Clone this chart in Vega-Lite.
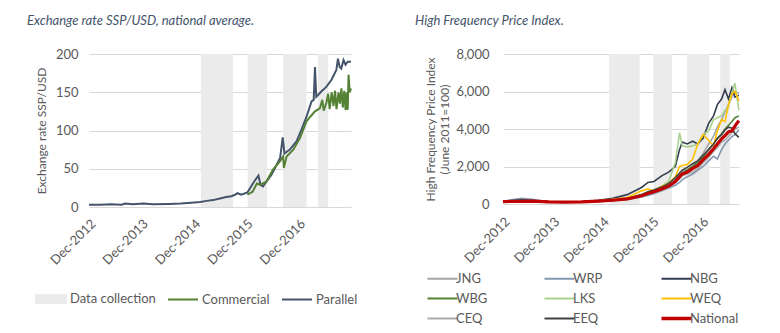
{
  "$schema": "https://vega.github.io/schema/vega-lite/v6.json",
  "padding": {"left": 27, "top": 15, "right": 5, "bottom": 5},
  "datasets": {
    "bands": [
      {"d": "2015-01-20", "e": "2015-09-01"},
      {"d": "2015-12-12", "e": "2016-04-25"},
      {"d": "2016-08-15", "e": "2017-01-25"},
      {"d": "2017-04-15", "e": "2017-06-25"}
    ],
    "fx": [
      {"d": "2012-12-01", "s": "Parallel", "v": 3},
      {"d": "2013-02-15", "s": "Parallel", "v": 3},
      {"d": "2013-05-01", "s": "Parallel", "v": 3.5},
      {"d": "2013-07-15", "s": "Parallel", "v": 3},
      {"d": "2013-08-10", "s": "Parallel", "v": 4.5},
      {"d": "2013-10-01", "s": "Parallel", "v": 3.5},
      {"d": "2013-12-15", "s": "Parallel", "v": 4.5},
      {"d": "2014-02-15", "s": "Parallel", "v": 3.5},
      {"d": "2014-06-15", "s": "Parallel", "v": 4},
      {"d": "2014-09-01", "s": "Parallel", "v": 4.5},
      {"d": "2014-11-15", "s": "Parallel", "v": 5.5},
      {"d": "2015-01-15", "s": "Parallel", "v": 6.5},
      {"d": "2015-03-01", "s": "Parallel", "v": 8},
      {"d": "2015-04-15", "s": "Parallel", "v": 9},
      {"d": "2015-06-01", "s": "Parallel", "v": 11},
      {"d": "2015-07-15", "s": "Parallel", "v": 13},
      {"d": "2015-08-20", "s": "Parallel", "v": 14},
      {"d": "2015-09-15", "s": "Parallel", "v": 16},
      {"d": "2015-10-01", "s": "Parallel", "v": 18},
      {"d": "2015-10-28", "s": "Parallel", "v": 16},
      {"d": "2015-12-10", "s": "Parallel", "v": 19},
      {"d": "2016-01-25", "s": "Parallel", "v": 33},
      {"d": "2016-02-25", "s": "Parallel", "v": 41},
      {"d": "2016-03-10", "s": "Parallel", "v": 29},
      {"d": "2016-03-28", "s": "Parallel", "v": 27},
      {"d": "2016-04-20", "s": "Parallel", "v": 33},
      {"d": "2016-05-25", "s": "Parallel", "v": 42},
      {"d": "2016-06-30", "s": "Parallel", "v": 55},
      {"d": "2016-07-25", "s": "Parallel", "v": 64},
      {"d": "2016-08-12", "s": "Parallel", "v": 91},
      {"d": "2016-08-24", "s": "Parallel", "v": 70},
      {"d": "2016-10-01", "s": "Parallel", "v": 75},
      {"d": "2016-11-17", "s": "Parallel", "v": 86},
      {"d": "2016-12-21", "s": "Parallel", "v": 101},
      {"d": "2017-01-25", "s": "Parallel", "v": 118},
      {"d": "2017-03-01", "s": "Parallel", "v": 138},
      {"d": "2017-03-16", "s": "Parallel", "v": 140},
      {"d": "2017-03-25", "s": "Parallel", "v": 183},
      {"d": "2017-04-03", "s": "Parallel", "v": 144},
      {"d": "2017-05-08", "s": "Parallel", "v": 151},
      {"d": "2017-06-12", "s": "Parallel", "v": 157},
      {"d": "2017-07-17", "s": "Parallel", "v": 166},
      {"d": "2017-08-21", "s": "Parallel", "v": 179},
      {"d": "2017-09-01", "s": "Parallel", "v": 194},
      {"d": "2017-09-13", "s": "Parallel", "v": 183},
      {"d": "2017-09-24", "s": "Parallel", "v": 181},
      {"d": "2017-10-10", "s": "Parallel", "v": 192},
      {"d": "2017-10-24", "s": "Parallel", "v": 186},
      {"d": "2017-11-08", "s": "Parallel", "v": 190},
      {"d": "2017-12-01", "s": "Parallel", "v": 190},
      {"d": "2015-12-10", "s": "Commercial", "v": 16},
      {"d": "2016-01-15", "s": "Commercial", "v": 20},
      {"d": "2016-02-15", "s": "Commercial", "v": 31},
      {"d": "2016-03-05", "s": "Commercial", "v": 29},
      {"d": "2016-04-20", "s": "Commercial", "v": 33},
      {"d": "2016-06-05", "s": "Commercial", "v": 49},
      {"d": "2016-07-25", "s": "Commercial", "v": 60},
      {"d": "2016-08-15", "s": "Commercial", "v": 66},
      {"d": "2016-08-20", "s": "Commercial", "v": 51},
      {"d": "2016-09-08", "s": "Commercial", "v": 66},
      {"d": "2016-10-25", "s": "Commercial", "v": 75},
      {"d": "2016-12-10", "s": "Commercial", "v": 90},
      {"d": "2017-01-25", "s": "Commercial", "v": 112},
      {"d": "2017-02-20", "s": "Commercial", "v": 118},
      {"d": "2017-03-25", "s": "Commercial", "v": 125},
      {"d": "2017-04-28", "s": "Commercial", "v": 129},
      {"d": "2017-05-15", "s": "Commercial", "v": 140},
      {"d": "2017-05-25", "s": "Commercial", "v": 126},
      {"d": "2017-06-12", "s": "Commercial", "v": 136},
      {"d": "2017-06-25", "s": "Commercial", "v": 148},
      {"d": "2017-07-05", "s": "Commercial", "v": 128},
      {"d": "2017-07-20", "s": "Commercial", "v": 150},
      {"d": "2017-08-01", "s": "Commercial", "v": 132},
      {"d": "2017-08-12", "s": "Commercial", "v": 152},
      {"d": "2017-08-22", "s": "Commercial", "v": 128},
      {"d": "2017-09-05", "s": "Commercial", "v": 150},
      {"d": "2017-09-15", "s": "Commercial", "v": 135},
      {"d": "2017-09-25", "s": "Commercial", "v": 155},
      {"d": "2017-10-05", "s": "Commercial", "v": 130},
      {"d": "2017-10-15", "s": "Commercial", "v": 152},
      {"d": "2017-10-24", "s": "Commercial", "v": 127},
      {"d": "2017-11-01", "s": "Commercial", "v": 150},
      {"d": "2017-11-08", "s": "Commercial", "v": 127},
      {"d": "2017-11-14", "s": "Commercial", "v": 173},
      {"d": "2017-11-22", "s": "Commercial", "v": 150},
      {"d": "2017-12-01", "s": "Commercial", "v": 155}
    ],
    "hfpi": [
      {"d": "2012-12-01", "JNG": 150, "WRP": 150, "NBG": 150, "WBG": 150, "LKS": 140, "WEQ": 140, "CEQ": 130, "EEQ": 140, "National": 130},
      {"d": "2013-04-15", "JNG": 160, "WRP": 300, "NBG": 230, "WBG": 140, "LKS": 150, "WEQ": 150, "CEQ": 130, "EEQ": 140, "National": 140},
      {"d": "2013-07-01", "JNG": 150, "WRP": 250, "NBG": 200, "WBG": 150, "LKS": 140, "WEQ": 130, "CEQ": 140, "EEQ": 150, "National": 150},
      {"d": "2013-11-01", "JNG": 120, "WRP": 120, "NBG": 130, "WBG": 110, "LKS": 110, "WEQ": 100, "CEQ": 100, "EEQ": 110, "National": 110},
      {"d": "2014-03-01", "JNG": 110, "WRP": 110, "NBG": 110, "WBG": 110, "LKS": 100, "WEQ": 100, "CEQ": 100, "EEQ": 100, "National": 100},
      {"d": "2014-07-01", "JNG": 110, "WRP": 100, "NBG": 120, "WBG": 110, "LKS": 110, "WEQ": 110, "CEQ": 100, "EEQ": 110, "National": 110},
      {"d": "2014-11-01", "JNG": 160, "WRP": 130, "NBG": 200, "WBG": 160, "LKS": 160, "WEQ": 170, "CEQ": 140, "EEQ": 150, "National": 150},
      {"d": "2015-02-15", "JNG": 220, "WRP": 170, "NBG": 300, "WBG": 210, "LKS": 220, "WEQ": 250, "CEQ": 190, "EEQ": 200, "National": 200},
      {"d": "2015-06-01", "JNG": 300, "WRP": 230, "NBG": 500, "WBG": 290, "LKS": 300, "WEQ": 350, "CEQ": 250, "EEQ": 280, "National": 270},
      {"d": "2015-09-15", "JNG": 480, "WRP": 380, "NBG": 880, "WBG": 460, "LKS": 500, "WEQ": 700, "CEQ": 420, "EEQ": 500, "National": 440},
      {"d": "2015-11-01", "JNG": 600, "WRP": 450, "NBG": 1150, "WBG": 580, "LKS": 650, "WEQ": 800, "CEQ": 520, "EEQ": 650, "National": 560},
      {"d": "2015-12-15", "JNG": 700, "WRP": 550, "NBG": 1200, "WBG": 680, "LKS": 750, "WEQ": 700, "CEQ": 600, "EEQ": 750, "National": 650},
      {"d": "2016-02-10", "JNG": 850, "WRP": 700, "NBG": 1500, "WBG": 850, "LKS": 950, "WEQ": 950, "CEQ": 750, "EEQ": 900, "National": 800},
      {"d": "2016-04-01", "JNG": 1000, "WRP": 850, "NBG": 1700, "WBG": 1000, "LKS": 1200, "WEQ": 1100, "CEQ": 900, "EEQ": 1100, "National": 950},
      {"d": "2016-05-20", "JNG": 1300, "WRP": 1000, "NBG": 2000, "WBG": 1250, "LKS": 2200, "WEQ": 1450, "CEQ": 1150, "EEQ": 1400, "National": 1200},
      {"d": "2016-06-20", "JNG": 1550, "WRP": 1150, "NBG": 2900, "WBG": 1500, "LKS": 3800, "WEQ": 2000, "CEQ": 1350, "EEQ": 1650, "National": 1450},
      {"d": "2016-07-10", "JNG": 1700, "WRP": 1300, "NBG": 3300, "WBG": 1650, "LKS": 3100, "WEQ": 2050, "CEQ": 1500, "EEQ": 1800, "National": 1600},
      {"d": "2016-08-15", "JNG": 1850, "WRP": 1450, "NBG": 3200, "WBG": 1800, "LKS": 3050, "WEQ": 2100, "CEQ": 1600, "EEQ": 1950, "National": 1700},
      {"d": "2016-09-25", "JNG": 2050, "WRP": 1600, "NBG": 3350, "WBG": 2000, "LKS": 3100, "WEQ": 2400, "CEQ": 1700, "EEQ": 2150, "National": 1900},
      {"d": "2016-11-01", "JNG": 2300, "WRP": 1800, "NBG": 3200, "WBG": 2200, "LKS": 3200, "WEQ": 3200, "CEQ": 1900, "EEQ": 2300, "National": 2050},
      {"d": "2016-12-10", "JNG": 2700, "WRP": 2000, "NBG": 3500, "WBG": 2500, "LKS": 3700, "WEQ": 3700, "CEQ": 2200, "EEQ": 2600, "National": 2350},
      {"d": "2017-01-20", "JNG": 3200, "WRP": 2300, "NBG": 4300, "WBG": 2900, "LKS": 3900, "WEQ": 3400, "CEQ": 2500, "EEQ": 2900, "National": 2650},
      {"d": "2017-02-25", "JNG": 3600, "WRP": 2550, "NBG": 4700, "WBG": 3200, "LKS": 4500, "WEQ": 3100, "CEQ": 2800, "EEQ": 3200, "National": 2950},
      {"d": "2017-03-25", "JNG": 4100, "WRP": 2400, "NBG": 5300, "WBG": 3500, "LKS": 4600, "WEQ": 3900, "CEQ": 3000, "EEQ": 3500, "National": 3200},
      {"d": "2017-04-25", "JNG": 4500, "WRP": 2900, "NBG": 5600, "WBG": 3750, "LKS": 4700, "WEQ": 4500, "CEQ": 3300, "EEQ": 3700, "National": 3480},
      {"d": "2017-05-20", "JNG": 4900, "WRP": 3200, "NBG": 6100, "WBG": 4000, "LKS": 5000, "WEQ": 4400, "CEQ": 3400, "EEQ": 3950, "National": 3650},
      {"d": "2017-06-15", "JNG": 5300, "WRP": 3400, "NBG": 5600, "WBG": 4200, "LKS": 5200, "WEQ": 5300, "CEQ": 3600, "EEQ": 4100, "National": 3850},
      {"d": "2017-07-10", "JNG": 5700, "WRP": 3600, "NBG": 6200, "WBG": 4400, "LKS": 5900, "WEQ": 5900, "CEQ": 3800, "EEQ": 4050, "National": 3900},
      {"d": "2017-08-01", "JNG": 6000, "WRP": 3700, "NBG": 5700, "WBG": 4600, "LKS": 6450, "WEQ": 6000, "CEQ": 4000, "EEQ": 3750, "National": 4150},
      {"d": "2017-08-30", "JNG": 5900, "WRP": 3950, "NBG": 5800, "WBG": 4700, "LKS": 5000, "WEQ": 5500, "CEQ": 4100, "EEQ": 3550, "National": 4450}
    ]
  },
  "config": {
    "font": "Lato",
    "view": {"stroke": null},
    "axis": {
      "labelColor": "#595959", "titleColor": "#595959", "labelFontSize": 13, "titleFontSize": 12,
      "titleFontWeight": "normal", "ticks": false, "domain": false, "gridColor": "#D9D9D9", "labelFont": "Lato", "titleFont": "Lato"
    },
    "legend": {"labelColor": "#595959", "labelFontSize": 13, "labelFont": "Lato"},
    "title": {"font": "Lato", "fontStyle": "italic", "fontWeight": "normal", "fontSize": 13, "color": "#44546A", "anchor": "start", "frame": "group"}
  },
  "resolve": {"scale": {"color": "independent"}, "legend": {"color": "independent"}},
  "spacing": 57,
  "hconcat": [
    {
      "width": 262,
      "height": 153,
      "title": {"text": "Exchange rate SSP/USD, national average.", "dx": -62, "offset": 20},
      "encoding": {
        "x": {"field": "d", "type": "temporal",
          "scale": {"domain": [{"year": 2012, "month": 12, "date": 1}, {"year": 2017, "month": 12, "date": 1}]},
          "axis": {"title": null, "format": "%b-%Y", "labelAngle": -45, "grid": false, "labelPadding": 10, "labelFlush": false, "labelOverlap": false,
            "values": [{"year": 2012, "month": 12, "date": 1}, {"year": 2013, "month": 12, "date": 1}, {"year": 2014, "month": 12, "date": 1}, {"year": 2015, "month": 12, "date": 1}, {"year": 2016, "month": 12, "date": 1}]}},
        "color": {"type": "nominal",
          "scale": {"domain": ["Data collection", "Commercial", "Parallel"], "range": ["#EBEBEB", "#548235", "#44546A"]},
          "legend": {
            "title": null, "orient": "none", "legendX": -54, "legendY": 229, "direction": "horizontal", "symbolType": "stroke", "symbolSize": 900,
            "symbolStrokeWidth": 2, "labelOffset": 3, "columnPadding": 8,
            "encode": {"symbols": {"update": {
              "shape": {"signal": "datum.value === 'Data collection' ? 'M-1,-0.26H1V0.26H-1Z' : 'stroke'"},
              "fill": {"signal": "datum.value === 'Data collection' ? '#EBEBEB' : 'transparent'"},
              "stroke": {"signal": "datum.value === 'Data collection' ? 'transparent' : (datum.value === 'Commercial' ? '#548235' : '#44546A')"},
              "opacity": {"value": 1}
            }}}
          }}
      },
      "layer": [
        {
          "data": {"name": "bands"},
          "mark": {"type": "rect"},
          "encoding": {
            "x2": {"field": "e"},
            "color": {"datum": "Data collection"}
          }
        },
        {
          "data": {"name": "fx"},
          "mark": {"type": "line", "strokeWidth": 2},
          "encoding": {
            "y": {"field": "v", "type": "quantitative", "scale": {"domain": [0, 200]},
              "axis": {"title": "Exchange rate SSP/USD", "values": [0, 50, 100, 150, 200], "labelPadding": 11, "titlePadding": 7}},
            "color": {"field": "s"}
          }
        }
      ]
    },
    {
      "width": 236,
      "height": 150,
      "title": {"text": "High Frequency Price Index.", "dx": -88, "offset": 20},
      "encoding": {
        "x": {"field": "d", "type": "temporal",
          "scale": {"domain": [{"year": 2012, "month": 12, "date": 1}, {"year": 2017, "month": 8, "date": 31}]},
          "axis": {"title": null, "format": "%b-%Y", "labelAngle": -45, "grid": false, "labelPadding": 11, "labelFlush": false, "labelOverlap": false,
            "values": [{"year": 2012, "month": 12, "date": 1}, {"year": 2013, "month": 12, "date": 1}, {"year": 2014, "month": 12, "date": 1}, {"year": 2015, "month": 12, "date": 1}, {"year": 2016, "month": 12, "date": 1}]}}
      },
      "layer": [
        {
          "data": {"name": "bands"},
          "mark": {"type": "rect", "color": "#EBEBEB"},
          "encoding": {
            "x2": {"field": "e"}
          }
        },
        {
          "data": {"name": "hfpi"},
          "transform": [
            {"fold": ["JNG", "WRP", "NBG", "WBG", "LKS", "WEQ", "CEQ", "EEQ", "National"], "as": ["series", "value"]}
          ],
          "encoding": {
            "y": {"field": "value", "type": "quantitative", "scale": {"domain": [0, 8000]},
              "axis": {"title": ["High Frequency Price Index", "(June 2011=100)"], "values": [0, 2000, 4000, 6000, 8000], "labelExpr": "format(datum.value, ',')", "labelPadding": 14, "titlePadding": 4, "titleLineHeight": 14}},
            "color": {"field": "series", "type": "nominal",
              "scale": {"domain": ["JNG", "WRP", "NBG", "WBG", "LKS", "WEQ", "CEQ", "EEQ", "National"],
                "range": ["#A5A5A5", "#8497B0", "#333F50", "#548235", "#A9D18E", "#FFC000", "#ABABAB", "#404040", "#C00000"]},
              "legend": {
                "title": null, "orient": "none", "legendX": -67, "legendY": 218, "direction": "horizontal", "columns": 3, "gridAlign": "all", "symbolType": "stroke", "symbolSize": 900,
                "symbolStrokeWidth": 2, "labelOffset": 7, "columnPadding": 32, "rowPadding": 5,
                "encode": {"symbols": {"update": {"strokeWidth": {"signal": "datum.value === 'National' ? 3.5 : 2"}}}}
              }}
          },
          "layer": [
            {
              "transform": [{"filter": "datum.series !== 'National'"}],
              "mark": {"type": "line", "strokeWidth": 1.6}
            },
            {
              "transform": [{"filter": "datum.series === 'National'"}],
              "mark": {"type": "line", "strokeWidth": 3.2}
            }
          ]
        }
      ]
    }
  ]
}
